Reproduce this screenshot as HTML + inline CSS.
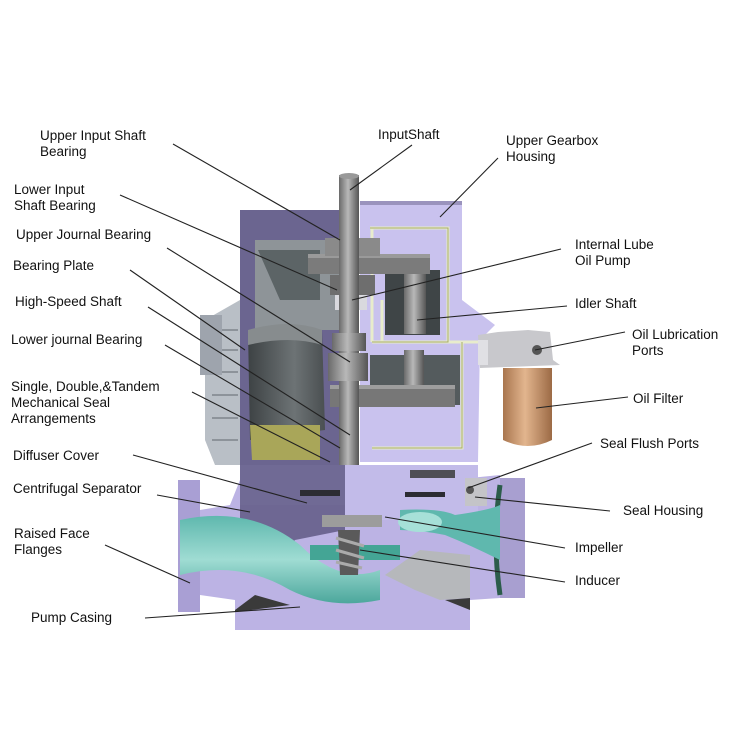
<!DOCTYPE html>
<html><head><meta charset="utf-8"><style>
html,body{margin:0;padding:0;background:#fff;}
svg{display:block}
text{font-family:"Liberation Sans",Arial,sans-serif;font-size:13.5px;fill:#111;}
</style></head><body>
<svg width="750" height="750" viewBox="0 0 750 750" xmlns="http://www.w3.org/2000/svg">
<defs>
<linearGradient id="sh" x1="0" x2="1"><stop offset="0" stop-color="#6a6a6a"/><stop offset="0.45" stop-color="#b8b8b8"/><stop offset="1" stop-color="#555"/></linearGradient>
<linearGradient id="fl" x1="0" x2="1"><stop offset="0" stop-color="#a9764f"/><stop offset="0.45" stop-color="#e2b58e"/><stop offset="1" stop-color="#9c6a45"/></linearGradient>
<linearGradient id="tl" x1="0" y1="0" x2="0" y2="1"><stop offset="0" stop-color="#5fb8ae"/><stop offset="0.5" stop-color="#9fdcd3"/><stop offset="1" stop-color="#4ca79c"/></linearGradient>
<linearGradient id="cy" x1="0" x2="1"><stop offset="0" stop-color="#3d4244"/><stop offset="0.6" stop-color="#6d7375"/><stop offset="1" stop-color="#4a4f51"/></linearGradient>
</defs>

<!-- left ribbed side -->
<path d="M205 320 L240 300 L240 465 L215 465 L205 440 Z" fill="#b9bfc6"/>
<path d="M212 330 L238 330 M212 350 L238 350 M212 372 L238 372 M212 395 L238 395 M212 418 L238 418 M212 440 L238 440" stroke="#8d939a" stroke-width="2"/>
<rect x="200" y="315" width="22" height="60" fill="#9ea4ad"/>

<!-- upper housing left (dark purple) -->
<path d="M240 210 L345 210 L345 465 L240 465 Z" fill="#6b6590"/>
<path d="M255 240 L340 240 L340 330 L255 330 Z" fill="#8e9498"/>
<path d="M258 250 L320 250 L320 300 L280 300 Z" fill="#5c6466"/>
<path d="M248 330 L322 330 L325 430 L250 440 Z" fill="url(#cy)"/>
<path d="M248 330 Q290 318 322 330 L322 345 Q290 335 248 345Z" fill="#878c8e"/>
<path d="M250 425 L320 425 L320 460 L252 460 Z" fill="#a9a659"/>

<!-- upper housing right (light lavender) -->
<path d="M360 205 L462 205 L462 300 L495 325 L480 340 L478 462 L360 462 Z" fill="#c9c2ee"/>
<path d="M360 203 L462 203" stroke="#9a93bd" stroke-width="4"/>
<!-- lube lines -->
<path d="M370 228 L448 228 L448 342 L372 342 M372 228 L372 342 M382 342 L382 300 M448 342 L478 342 M462 342 L462 448 L372 448" fill="none" stroke="#e8eccc" stroke-width="3"/>
<path d="M370 228 L448 228 L448 342 L372 342 M462 342 L462 448 L372 448" fill="none" stroke="#a7ab6c" stroke-width="1"/>
<!-- idler dark compartment -->
<rect x="385" y="270" width="55" height="65" fill="#3f4547"/>
<rect x="404" y="272" width="22" height="62" fill="url(#sh)"/>
<rect x="370" y="355" width="90" height="50" fill="#545b5d"/>
<rect x="404" y="350" width="20" height="40" fill="url(#sh)"/>

<!-- gears -->
<rect x="308" y="254" width="122" height="20" fill="#7b7b7b"/>
<rect x="308" y="254" width="122" height="4" fill="#9a9a9a"/>
<rect x="330" y="385" width="125" height="22" fill="#777"/>
<rect x="330" y="385" width="125" height="4" fill="#9e9e9e"/>
<rect x="325" y="238" width="55" height="18" fill="#8a8a8a"/>
<rect x="330" y="275" width="45" height="20" fill="#6e6e6e"/>
<rect x="335" y="295" width="32" height="15" fill="#d9d9de"/>

<!-- shaft -->
<rect x="339" y="175" width="20" height="330" fill="url(#sh)"/>
<ellipse cx="349" cy="176" rx="10" ry="3" fill="#999"/>
<rect x="332" y="333" width="34" height="18" fill="url(#sh)"/>
<rect x="328" y="353" width="40" height="28" fill="url(#sh)"/>

<!-- lower casing -->
<path d="M178 480 L200 480 L200 510 L230 505 L240 480 L470 478 L500 475 L500 598 L470 600 L470 630 L235 630 L235 600 L200 595 L200 612 L178 612 Z" fill="#bcb3e4"/>
<path d="M240 480 L345 480 L345 530 L295 540 L280 560 L240 550 Z" fill="#6e6793"/>
<rect x="178" y="480" width="22" height="132" fill="#a99fd4"/>
<rect x="500" y="478" width="25" height="120" fill="#a89fd0"/>
<path d="M500 485 Q492 540 500 595" stroke="#2b5c4a" stroke-width="5" fill="none"/>
<!-- diffuser area -->
<path d="M240 465 L478 465 L478 520 L345 520 L345 480 L240 480 Z" fill="#c2bbe9"/>
<rect x="240" y="465" width="105" height="40" fill="#706a95"/>
<rect x="300" y="490" width="40" height="6" fill="#2c2c33"/>
<rect x="405" y="492" width="40" height="5" fill="#2c2c33"/>
<rect x="410" y="470" width="45" height="8" fill="#4e4e55"/>
<rect x="465" y="478" width="22" height="28" fill="#c4c4c8"/>
<circle cx="470" cy="490" r="4" fill="#555"/>
<!-- fluid -->
<path d="M180 520 Q250 505 300 545 Q340 585 380 570 L380 600 Q330 610 290 590 Q240 560 180 575 Z" fill="url(#tl)"/>
<path d="M400 510 Q440 508 455 515 Q490 510 500 505 L500 560 Q470 545 445 535 Q420 530 400 530 Z" fill="#5fb8ae"/>
<ellipse cx="420" cy="522" rx="22" ry="10" fill="#a6e0d8"/>
<path d="M310 545 L400 545 L400 560 L310 560 Z" fill="#44a595"/>
<path d="M385 575 L420 550 L470 555 L470 598 L440 600 L415 590 Z" fill="#b6b8bb"/>
<!-- impeller & inducer -->
<rect x="322" y="515" width="60" height="12" fill="#9c9c9c"/>
<path d="M338 530 L360 530 L358 575 L340 575 Z" fill="#5a5a5a"/>
<path d="M336 538 L364 546 M336 550 L364 558 M336 562 L362 568" stroke="#aaa" stroke-width="3"/>
<!-- base pads -->
<path d="M235 610 L255 595 L290 605 L235 612 Z" fill="#3a3a3a"/>
<path d="M445 600 L470 610 L470 598 Z" fill="#3a3a3a"/>

<!-- oil filter & port block -->
<path d="M478 335 L498 332 L528 330 L550 332 L553 360 L560 365 L480 368 Z" fill="#c8c8cc"/>
<rect x="478" y="340" width="10" height="25" fill="#e0e0e4"/>
<circle cx="537" cy="350" r="5" fill="#555"/>
<path d="M503 368 L552 368 L552 440 Q528 452 503 440 Z" fill="url(#fl)"/>

<!-- leader lines -->
<g stroke="#222" stroke-width="1.1" fill="none">
<line x1="173" y1="144" x2="340" y2="240"/>
<line x1="120" y1="195" x2="337" y2="290"/>
<line x1="167" y1="248" x2="350" y2="362"/>
<line x1="130" y1="270" x2="245" y2="350"/>
<line x1="148" y1="307" x2="350" y2="435"/>
<line x1="165" y1="345" x2="340" y2="448"/>
<line x1="192" y1="392" x2="330" y2="462"/>
<line x1="133" y1="455" x2="307" y2="503"/>
<line x1="157" y1="495" x2="250" y2="512"/>
<line x1="105" y1="545" x2="190" y2="583"/>
<line x1="145" y1="618" x2="300" y2="607"/>
<line x1="412" y1="145" x2="350" y2="190"/>
<line x1="498" y1="158" x2="440" y2="217"/>
<line x1="561" y1="249" x2="352" y2="300"/>
<line x1="567" y1="306" x2="417" y2="320"/>
<line x1="625" y1="332" x2="535" y2="350"/>
<line x1="628" y1="397" x2="536" y2="408"/>
<line x1="592" y1="443" x2="468" y2="488"/>
<line x1="610" y1="511" x2="475" y2="497"/>
<line x1="565" y1="548" x2="385" y2="517"/>
<line x1="565" y1="582" x2="360" y2="550"/>
</g>

<!-- labels -->
<text x="40" y="140">Upper Input Shaft</text>
<text x="40" y="156">Bearing</text>
<text x="14" y="194">Lower Input</text>
<text x="14" y="210">Shaft Bearing</text>
<text x="16" y="239">Upper Journal Bearing</text>
<text x="13" y="270">Bearing Plate</text>
<text x="15" y="306">High-Speed Shaft</text>
<text x="11" y="344">Lower journal Bearing</text>
<text x="11" y="391">Single, Double,&amp;Tandem</text>
<text x="11" y="407">Mechanical Seal</text>
<text x="11" y="423">Arrangements</text>
<text x="13" y="460">Diffuser Cover</text>
<text x="13" y="493">Centrifugal Separator</text>
<text x="14" y="538">Raised Face</text>
<text x="14" y="554">Flanges</text>
<text x="31" y="622">Pump Casing</text>
<text x="378" y="139">InputShaft</text>
<text x="506" y="145">Upper Gearbox</text>
<text x="506" y="161">Housing</text>
<text x="575" y="249">Internal Lube</text>
<text x="575" y="265">Oil Pump</text>
<text x="575" y="308">Idler Shaft</text>
<text x="632" y="339">Oil Lubrication</text>
<text x="632" y="355">Ports</text>
<text x="633" y="403">Oil Filter</text>
<text x="600" y="448">Seal Flush Ports</text>
<text x="623" y="515">Seal Housing</text>
<text x="575" y="552">Impeller</text>
<text x="575" y="585">Inducer</text>
</svg>
</body></html>
